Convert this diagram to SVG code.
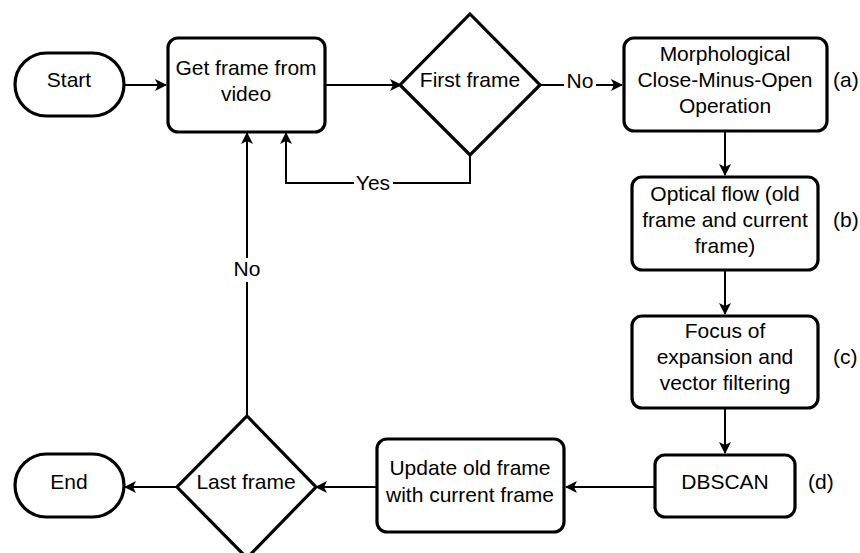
<svg xmlns="http://www.w3.org/2000/svg" width="860" height="553" viewBox="0 0 860 553">
<style>
.n{fill:#fff;stroke:#000;stroke-width:3.2}
.t{font-family:"Liberation Sans",Arial,sans-serif;font-size:21px;fill:#000;text-anchor:middle}
.ts{font-family:"Liberation Sans",Arial,sans-serif;font-size:21px;fill:#000;text-anchor:start}
.c{fill:none;stroke:#000;stroke-width:2}
.lb{fill:#fff}
</style>
<defs>
<marker id="ah" viewBox="0 0 12 12" refX="11" refY="6" markerWidth="12" markerHeight="12" markerUnits="userSpaceOnUse" orient="auto">
<path d="M0,0 L12,6 L0,12 L3,6 Z" fill="#000"/>
</marker>
</defs>
<rect width="860" height="553" fill="#fff"/>
<g id="connectors">
<path class="c" d="M124,85 H166" marker-end="url(#ah)"/>
<path class="c" d="M325,85 H401" marker-end="url(#ah)"/>
<path class="c" d="M540,85 H622" marker-end="url(#ah)"/>
<path class="c" d="M470,155 V183 H286 V133" marker-end="url(#ah)"/>
<path class="c" d="M725,131 V175" marker-end="url(#ah)"/>
<path class="c" d="M725,270 V314" marker-end="url(#ah)"/>
<path class="c" d="M725,408 V453" marker-end="url(#ah)"/>
<path class="c" d="M654,487 H566" marker-end="url(#ah)"/>
<path class="c" d="M376,487 H316" marker-end="url(#ah)"/>
<path class="c" d="M177,487 H125" marker-end="url(#ah)"/>
<path class="c" d="M247,415 V133" marker-end="url(#ah)"/>
<rect class="lb" x="564" y="72" width="32" height="22"/>
<text class="t" x="580" y="88">No</text>
<rect class="lb" x="354" y="174" width="39" height="22"/>
<text class="t" x="373" y="190">Yes</text>
<rect class="lb" x="233" y="258" width="29" height="24"/>
<text class="t" x="247" y="276">No</text>
</g>
<g id="start">
<rect class="n" x="15" y="53" width="109" height="63" rx="31.5"/>
<text class="t" x="69" y="87">Start</text>
</g>
<g id="get-frame">
<rect class="n" x="168" y="38" width="157" height="94" rx="10"/>
<text class="t" x="246" y="75">Get frame from</text>
<text class="t" x="246" y="101">video</text>
</g>
<g id="first-frame">
<polygon class="n" points="470,14 540,85 470,155 400,85"/>
<text class="t" x="470" y="87">First frame</text>
</g>
<g id="morph">
<rect class="n" x="624" y="38" width="203" height="93" rx="10"/>
<text class="t" x="725" y="61">Morphological</text>
<text class="t" x="725" y="87">Close-Minus-Open</text>
<text class="t" x="725" y="113">Operation</text>
<text class="ts" x="833" y="87">(a)</text>
</g>
<g id="optical">
<rect class="n" x="632" y="177" width="186" height="93" rx="10"/>
<text class="t" x="725" y="201">Optical flow (old</text>
<text class="t" x="725" y="227">frame and current</text>
<text class="t" x="725" y="253">frame)</text>
<text class="ts" x="833" y="227">(b)</text>
</g>
<g id="focus">
<rect class="n" x="632" y="316" width="186" height="92" rx="10"/>
<text class="t" x="725" y="338">Focus of</text>
<text class="t" x="725" y="364">expansion and</text>
<text class="t" x="725" y="390">vector filtering</text>
<text class="ts" x="833" y="364">(c)</text>
</g>
<g id="dbscan">
<rect class="n" x="655" y="455" width="140" height="62" rx="10"/>
<text class="t" x="725" y="489">DBSCAN</text>
<text class="ts" x="808" y="489">(d)</text>
</g>
<g id="update">
<rect class="n" x="377" y="439" width="187" height="93" rx="10"/>
<text class="t" x="470" y="475">Update old frame</text>
<text class="t" x="470" y="502">with current frame</text>
</g>
<g id="last-frame">
<polygon class="n" points="247,416 316,487 247,558 177,487"/>
<text class="t" x="246" y="489">Last frame</text>
</g>
<g id="end">
<rect class="n" x="15" y="454" width="109" height="63" rx="31.5"/>
<text class="t" x="69" y="489">End</text>
</g>
</svg>
